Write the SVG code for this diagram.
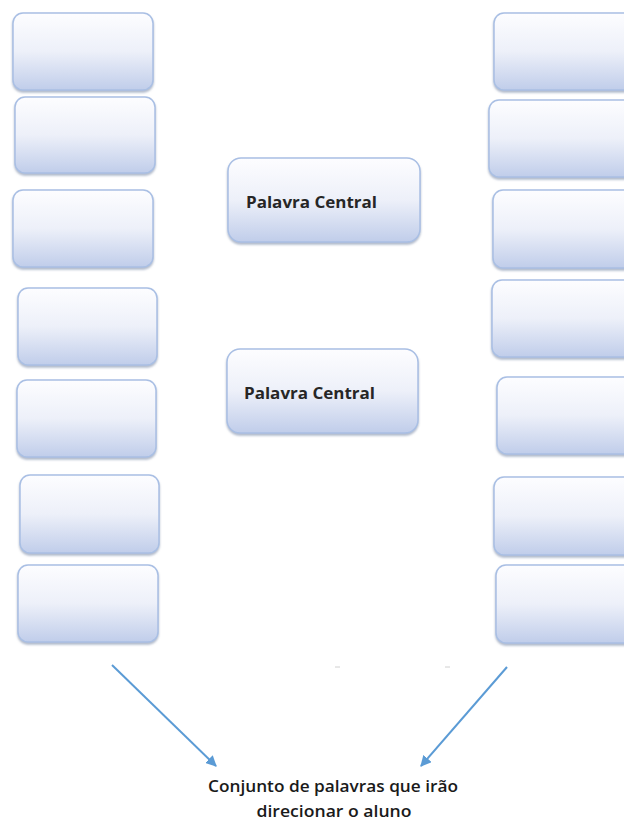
<svg xmlns="http://www.w3.org/2000/svg" width="624" height="821" viewBox="0 0 624 821">
<defs>
<linearGradient id="g" x1="0" y1="0" x2="0" y2="1">
<stop offset="0" stop-color="#fdfdff"/>
<stop offset="0.5" stop-color="#edf0f9"/>
<stop offset="1" stop-color="#c0cdea"/>
</linearGradient>
<filter id="sh" x="-10%" y="-10%" width="120%" height="130%">
<feGaussianBlur in="SourceAlpha" stdDeviation="1.2"/>
<feOffset dx="0" dy="1.5" result="b"/>
<feFlood flood-color="#7a8aa8" flood-opacity="0.6"/>
<feComposite in2="b" operator="in"/>
<feMerge><feMergeNode/><feMergeNode in="SourceGraphic"/></feMerge>
</filter>
<marker id="ah" viewBox="0 0 10 10" refX="9" refY="5" markerWidth="5.5" markerHeight="5.5" orient="auto" markerUnits="strokeWidth">
<path d="M0,0 L10,5 L0,10 z" fill="#5b9bd5"/>
</marker>
</defs>
<style>
.b{fill:url(#g);stroke:#a9bfe4;stroke-width:1.5;filter:url(#sh)}
.t{font-family:"Open Sans","Liberation Sans",sans-serif;font-weight:bold;font-size:15.5px;fill:#262626}
.c{font-family:"Open Sans","Liberation Sans",sans-serif;font-weight:600;font-size:16.5px;fill:#1a1a1a}
.a{stroke:#5b9bd5;stroke-width:2;fill:none}
</style>
<rect width="624" height="821" fill="#ffffff"/>
<g id="left">
<g id="l1"><rect class="b" x="13" y="13" width="140" height="77" rx="10"/></g>
<g id="l2"><rect class="b" x="15" y="97" width="140" height="76" rx="10"/></g>
<g id="l3"><rect class="b" x="13" y="190" width="140" height="77" rx="10"/></g>
<g id="l4"><rect class="b" x="18" y="288" width="139" height="77" rx="10"/></g>
<g id="l5"><rect class="b" x="17" y="380" width="139" height="77" rx="10"/></g>
<g id="l6"><rect class="b" x="20" y="475" width="139" height="78" rx="10"/></g>
<g id="l7"><rect class="b" x="18" y="565" width="140" height="77" rx="10"/></g>
</g>
<g id="right">
<g id="r1"><rect class="b" x="494" y="13" width="140" height="77" rx="10"/></g>
<g id="r2"><rect class="b" x="489" y="100" width="145" height="77" rx="10"/></g>
<g id="r3"><rect class="b" x="493" y="190" width="141" height="78" rx="10"/></g>
<g id="r4"><rect class="b" x="492" y="280" width="142" height="77" rx="10"/></g>
<g id="r5"><rect class="b" x="497" y="377" width="137" height="77" rx="10"/></g>
<g id="r6"><rect class="b" x="494" y="477" width="140" height="78" rx="10"/></g>
<g id="r7"><rect class="b" x="496" y="565" width="138" height="78" rx="10"/></g>
</g>
<g id="center1"><rect class="b" x="228" y="158" width="192" height="84" rx="13"/>
<text class="t" x="246" y="208" textLength="131" lengthAdjust="spacingAndGlyphs">Palavra Central</text></g>
<g id="center2"><rect class="b" x="227" y="349" width="191" height="84" rx="13"/>
<text class="t" x="244" y="399" textLength="131" lengthAdjust="spacingAndGlyphs">Palavra Central</text></g>
<g id="connectors">
<line class="a" x1="112" y1="665" x2="216" y2="766" marker-end="url(#ah)"/>
<line class="a" x1="507" y1="667" x2="421" y2="766" marker-end="url(#ah)"/>
</g>
<g id="marks" stroke="#d0d0d0" stroke-width="1">
<line x1="335" y1="667" x2="340" y2="667"/>
<line x1="445" y1="667" x2="450" y2="667"/>
</g>
<g id="caption">
<text class="c" x="333" y="792" text-anchor="middle" textLength="250" lengthAdjust="spacingAndGlyphs">Conjunto de palavras que irão</text>
<text class="c" x="334" y="817" text-anchor="middle" textLength="155" lengthAdjust="spacingAndGlyphs">direcionar o aluno</text>
</g>
</svg>
